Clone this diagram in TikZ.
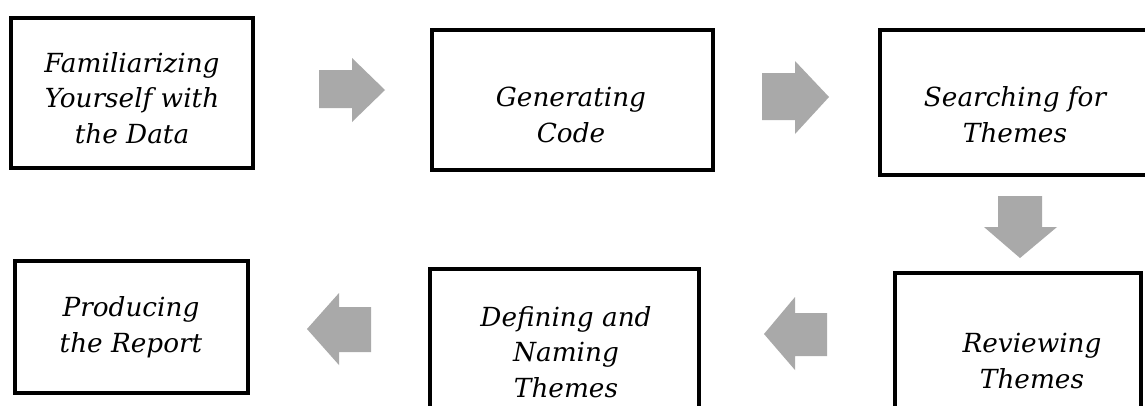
\documentclass[tikz,border=0pt]{standalone}
\usepackage{fontspec}
\setmainfont{DejaVu Serif}
\begin{document}
\begin{tikzpicture}[x=1pt,y=-1pt]
\definecolor{arrowgray}{RGB}{169,169,169}
\tikzset{
  stepbox/.style={draw=black, line width=3.5pt, fill=none, inner sep=0pt},
  lbl/.style={align=center, inner sep=0pt, anchor=base, font=\fontsize{26.3}{35.5}\selectfont\itshape},
  blk/.style={fill=arrowgray, draw=none}
}
\useasboundingbox (0,0) rectangle (1145,405);
\clip (0,0) rectangle (1145,405);
\fill[white] (0,0) rectangle (1145,405);
% boxes
\node[stepbox, minimum width=242pt, minimum height=150pt] (b1) at (132,93) {};
\node[stepbox, minimum width=281pt, minimum height=140pt] (b2) at (572.5,100) {};
\node[stepbox, minimum width=270pt, minimum height=145pt] (b3) at (1015,102.5) {};
\node[stepbox, minimum width=246pt, minimum height=167pt] (b4) at (1018,356.5) {};
\node[stepbox, minimum width=233pt, minimum height=132pt] (b6) at (131.5,327) {};
\node[stepbox, minimum width=269pt, minimum height=171pt] (b5) at (564.5,354.5) {};
% texts (anchor = baseline of last line)
\node[lbl] (t1) at (132,143) {Familiarizing\\Yourself with\\the Data};
\node[lbl] (t2) at (571,142) {Generating\\Code};
\node[lbl] (t3) at (1015,142) {Searching for\\Themes};
\node[lbl] (t4) at (1032,388) {Reviewing\\Themes};
\node[lbl] (t5) at (566,397) {Defining and\\Naming\\Themes};
\node[lbl] (t6) at (131,352) {Producing\\the Report};
% block arrows
\fill[blk] (319,70) -- (352,70) -- (352,58) -- (385,90) -- (352,122) -- (352,108) -- (319,108) -- cycle;
\fill[blk] (762,73) -- (795,73) -- (795,61) -- (829,97) -- (795,134) -- (795,120) -- (762,120) -- cycle;
\fill[blk] (998,196) -- (1042,196) -- (1042,227) -- (1057,227) -- (1020,258) -- (984,227) -- (998,227) -- cycle;
\fill[blk] (827,313) -- (795,313) -- (795,297) -- (764,334) -- (795,370) -- (795,356) -- (827,356) -- cycle;
\fill[blk] (371,307) -- (339,307) -- (339,293) -- (307,329) -- (339,365) -- (339,352) -- (371,352) -- cycle;
\end{tikzpicture}
\end{document}
